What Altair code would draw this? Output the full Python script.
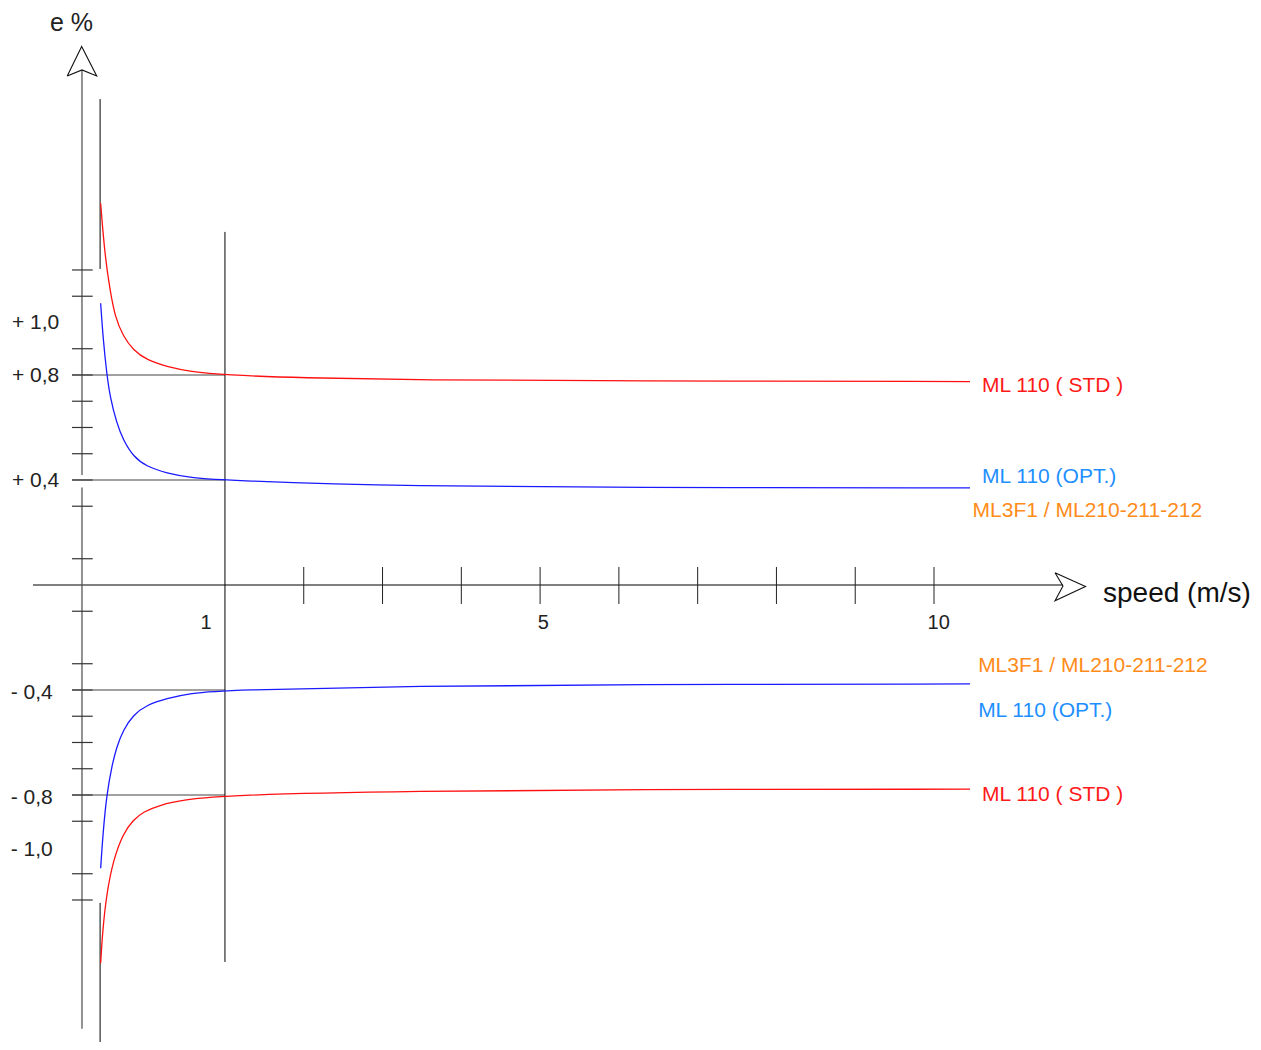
import altair as alt
import pandas as pd

# ---------------- data (speed in m/s, e in %) ----------------
# upper red curve: ML 110 (STD)
red_up_s = [-0.578, -0.523, -0.459, -0.396, -0.291, -0.164, 0.006, 0.260, 0.556, 1.000, 1.952, 3.475, 6.013, 10.457]
red_up_e = [1.454, 1.251, 1.124, 1.022, 0.946, 0.895, 0.857, 0.832, 0.813, 0.800, 0.789, 0.781, 0.777, 0.775]
# upper blue curve: ML 110 (OPT.)
blue_up_s = [-0.578, -0.545, -0.501, -0.459, -0.374, -0.291, -0.164, 0.006, 0.260, 0.556, 1.000, 3.475, 6.013, 10.457]
blue_up_e = [1.073, 0.933, 0.806, 0.717, 0.616, 0.552, 0.489, 0.451, 0.426, 0.409, 0.398, 0.375, 0.371, 0.370]
# lower blue curve
blue_lo_s = [-0.578, -0.545, -0.501, -0.438, -0.374, -0.291, -0.164, 0.006, 0.260, 0.556, 1.000, 3.475, 6.013, 10.457]
blue_lo_e = [-1.079, -0.933, -0.800, -0.692, -0.616, -0.552, -0.495, -0.457, -0.432, -0.413, -0.400, -0.385, -0.379, -0.377]
# lower red curve
red_lo_s = [-0.578, -0.552, -0.501, -0.418, -0.291, -0.164, -0.037, 0.175, 0.471, 1.000, 3.475, 6.013, 10.457]
red_lo_e = [-1.441, -1.314, -1.174, -1.048, -0.946, -0.895, -0.864, -0.838, -0.819, -0.800, -0.785, -0.779, -0.778]

curve_colors = {"red_up": "#ff1010", "blue_up": "#1a1aff", "blue_lo": "#1a1aff", "red_lo": "#ff1010"}

y_ticks = [1.2, 1.1, 0.9, 0.8, 0.7, 0.6, 0.5, 0.4, 0.3, 0.1,
           -0.1, -0.3, -0.4, -0.5, -0.6, -0.7, -0.8, -0.9, -1.1, -1.2]
x_ticks = [2, 3, 4, 5, 6, 7, 8, 9, 10]
ref_levels = [0.8, 0.4, -0.4, -0.8]

x_tick_labels = ["1", "5", "10"]
x_tick_label_pos = [0.76, 5.04, 10.06]

y_label_text = ["+ 1,0", "+ 0,8", "+ 0,4", "- 0,4", "- 0,8", "- 1,0"]
y_label_val = [1.0, 0.8, 0.4, -0.4, -0.8, -1.0]

series_labels = ["ML 110 ( STD )", "ML 110 (OPT.)", "ML3F1 / ML210-211-212",
                 "ML3F1 / ML210-211-212", "ML 110 (OPT.)", "ML 110 ( STD )"]
series_label_s = [10.61, 10.61, 10.49, 10.56, 10.56, 10.61]
series_label_e = [0.736, 0.387, 0.260, -0.333, -0.504, -0.822]   # text baselines
series_label_color = ["#ff1a1a", "#1e8fff", "#ff8c1a", "#ff8c1a", "#1e8fff", "#ff1a1a"]

# ---------------- build tables ----------------
rows = []
for name, ss, ee in [("red_up", red_up_s, red_up_e), ("blue_up", blue_up_s, blue_up_e),
                     ("blue_lo", blue_lo_s, blue_lo_e), ("red_lo", red_lo_s, red_lo_e)]:
    for i, (s, e) in enumerate(zip(ss, ee)):
        rows.append({"s": s, "e": e, "series": name, "i": i, "c": curve_colors[name]})
curves = pd.DataFrame(rows)

YAX = -0.815  # position of vertical e% axis (speed units)
seg = []
seg.append({"s": YAX, "s2": YAX, "e": 1.962, "e2": 0.419, "c": "#777777", "w": 1.6})
seg.append({"s": YAX, "s2": YAX, "e": 0.371, "e2": -1.691, "c": "#777777", "w": 1.6})
seg.append({"s": -1.437, "s2": 11.637, "e": 0.0, "e2": 0.0, "c": "#555555", "w": 1.3})
for t in y_ticks:
    seg.append({"s": -0.942, "s2": -0.679, "e": t, "e2": t, "c": "#333333", "w": 1.2})
for r in ref_levels:
    seg.append({"s": -0.942, "s2": 1.0, "e": r, "e2": r, "c": "#444444", "w": 1.2})
for t in x_ticks:
    seg.append({"s": t, "s2": t, "e": 0.0686, "e2": -0.0724, "c": "#222222", "w": 1.0})
seg.append({"s": 1.0, "s2": 1.0, "e": 1.345, "e2": -1.436, "c": "#000000", "w": 1.0})
seg.append({"s": -0.585, "s2": -0.585, "e": 1.851, "e2": 1.204, "c": "#000000", "w": 1.0})
seg.append({"s": -0.585, "s2": -0.585, "e": -1.211, "e2": -1.771, "c": "#000000", "w": 1.0})
segs = pd.DataFrame(seg)

arrow_y_s = [-1.002, -0.819, -0.628, -0.815, -1.002]
arrow_y_e = [1.939, 2.051, 1.939, 1.962, 1.939]
arrow_x_s = [11.536, 11.923, 11.536, 11.637, 11.536]
arrow_x_e = [0.0469, -0.0057, -0.0598, -0.0038, 0.0469]
arr = []
for name, ss, ee in [("ay", arrow_y_s, arrow_y_e), ("ax", arrow_x_s, arrow_x_e)]:
    for i, (s, e) in enumerate(zip(ss, ee)):
        arr.append({"s": s, "e": e, "a": name, "i": i})
arrows = pd.DataFrame(arr)

left_txt = []
for t, v in zip(y_label_text, y_label_val):
    pos = t.startswith("+")
    left_txt.append({"s": -1.704 if pos else -1.72, "e": v - (0.0267 if pos else 0.0335), "t": t,
                     "c": "#222222", "f": 21})
for t, s, e, c in zip(series_labels, series_label_s, series_label_e, series_label_color):
    left_txt.append({"s": s, "e": e, "t": t, "c": c, "f": 21})
left_txt.append({"s": -1.221, "e": 2.1105, "t": "e %", "c": "#222222", "f": 25})
left_txt.append({"s": 12.145, "e": -0.063, "t": "speed (m/s)", "c": "#111111", "f": 28})
ltxt = pd.DataFrame(left_txt)

ctxt = pd.DataFrame({"s": x_tick_label_pos, "e": [-0.169] * 3, "t": x_tick_labels})

# ---------------- chart ----------------
xs = alt.Scale(domain=[-1.754, 14.049], nice=False, zero=False)
ys = alt.Scale(domain=[-1.741, 2.198], nice=False, zero=False)
X = alt.X("s:Q", scale=xs, axis=None)
Y = alt.Y("e:Q", scale=ys, axis=None)

rules = alt.Chart(segs).mark_rule().encode(
    x=X, x2="s2:Q", y=Y, y2="e2:Q",
    color=alt.Color("c:N", scale=None),
    strokeWidth=alt.StrokeWidth("w:Q", scale=None),
)

lines = alt.Chart(curves).mark_line(interpolate="basis", strokeWidth=1.3).encode(
    x=X, y=Y, detail="series:N", order="i:Q",
    color=alt.Color("c:N", scale=None),
)

arrow_lines = alt.Chart(arrows).mark_line(color="#111111", strokeWidth=1.1).encode(
    x=X, y=Y, detail="a:N", order="i:Q",
)

labels_left = alt.Chart(ltxt).mark_text(align="left", baseline="alphabetic", font="Liberation Sans").encode(
    x=X, y=Y, text="t:N",
    color=alt.Color("c:N", scale=None),
    size=alt.Size("f:Q", scale=None),
)

labels_center = alt.Chart(ctxt).mark_text(align="center", baseline="alphabetic", font="Liberation Sans",
                                          fontSize=20, color="#222222").encode(
    x=X, y=Y, text="t:N",
)

chart = alt.layer(rules, lines, arrow_lines, labels_left, labels_center).properties(
    width=1245, height=1034, padding=0, autosize=alt.AutoSizeParams(type="none"),
).configure_view(stroke=None)

chart.save("out.html", embed_options={"renderer": "svg", "actions": False})
